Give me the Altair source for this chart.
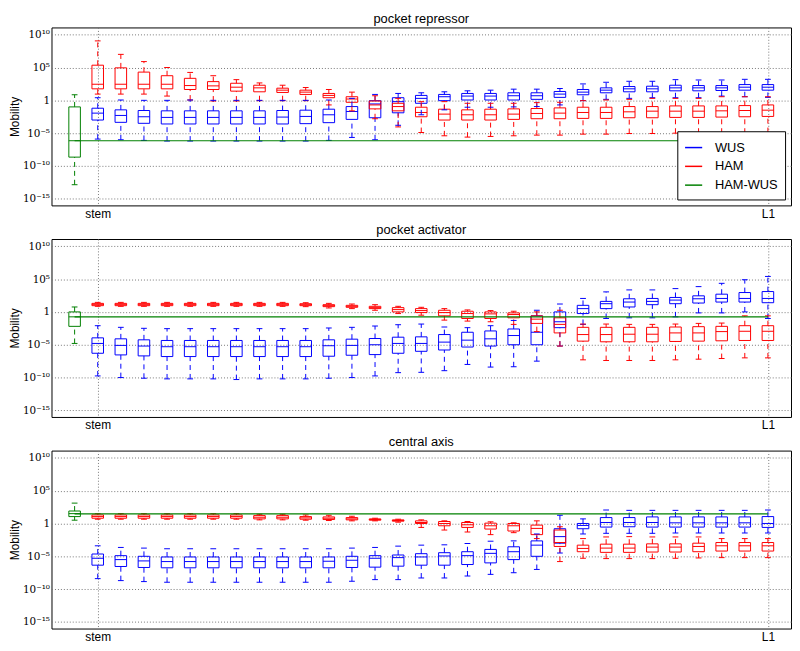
import altair as alt
import pandas as pd

# ---------------- data (log10 of Mobility) : [low, q1, median, q3, high] ----------------
SERIES = ["WUS", "HAM", "HAM-WUS"]
COLORS = ["#0000ff", "#ff0000", "#008000"]
PANELS = ["pocket repressor", "pocket activator", "central axis"]
POSITIONS = list(range(30))
GREEN_POS = -1
LINE_END = 29
TICK_POS = [0, 29]
TICK_TEXT = ["stem", "L1"]

PR_WUS = [
    [-5.9, -3.0, -1.95, -1.2, 0.4], [-6.0, -3.35, -2.3, -1.45, 0.05], [-6.1, -3.5, -2.5, -1.55, 0.0],
    [-6.2, -3.6, -2.6, -1.6, 0.0], [-6.2, -3.6, -2.6, -1.6, 0.05], [-6.2, -3.6, -2.6, -1.6, 0.0],
    [-6.2, -3.6, -2.6, -1.6, 0.0], [-6.2, -3.6, -2.6, -1.6, 0.0], [-6.2, -3.6, -2.55, -1.55, 0.0],
    [-6.2, -3.55, -2.45, -1.5, 0.0], [-6.1, -3.4, -2.2, -1.35, 0.05], [-5.65, -2.9, -1.7, -0.95, 0.3],
    [-6.0, -2.65, -0.55, -0.05, 0.9], [-3.8, -1.9, -0.2, 0.4, 1.05], [-2.2, -0.45, 0.3, 0.75, 1.15],
    [-1.45, -0.05, 0.55, 0.9, 1.3], [-1.05, 0.05, 0.65, 1.05, 1.45], [-1.05, 0.05, 0.65, 1.05, 1.55],
    [-1.0, 0.05, 0.7, 1.15, 1.7], [-0.95, 0.15, 0.7, 1.15, 1.7], [-0.7, 0.45, 0.95, 1.35, 1.8],
    [-0.05, 0.85, 1.25, 1.65, 2.5], [0.15, 1.15, 1.55, 1.9, 2.75], [0.3, 1.3, 1.75, 2.1, 2.9],
    [0.4, 1.3, 1.75, 2.15, 2.9], [0.4, 1.45, 1.9, 2.3, 3.15], [0.4, 1.45, 1.9, 2.25, 3.1],
    [0.65, 1.5, 1.9, 2.25, 3.1], [0.55, 1.55, 2.0, 2.4, 3.2], [0.45, 1.55, 2.0, 2.4, 3.2],
]
PR_HAM = [
    [0.95, 1.75, 2.45, 5.35, 9.05], [0.95, 1.75, 2.45, 4.95, 7.0], [0.95, 1.75, 2.45, 4.3, 5.9],
    [0.65, 1.75, 2.45, 3.75, 5.0], [0.05, 1.65, 2.25, 3.35, 4.25], [-0.1, 1.65, 2.2, 2.85, 3.75],
    [-0.1, 1.4, 2.0, 2.6, 3.15], [-0.05, 1.3, 1.9, 2.3, 2.65], [-0.05, 1.2, 1.55, 1.85, 2.3],
    [-0.05, 0.9, 1.25, 1.55, 1.95], [-0.7, 0.4, 0.75, 1.05, 1.65], [-1.6, -0.3, 0.2, 0.55, 1.25],
    [-2.8, -1.3, -0.7, -0.1, 0.7], [-4.05, -1.6, -0.95, -0.45, 0.3], [-4.9, -2.5, -1.85, -1.05, -0.2],
    [-5.4, -3.0, -2.1, -1.35, -0.2], [-5.6, -3.0, -2.2, -1.45, -0.45], [-5.5, -3.0, -2.2, -1.35, -0.45],
    [-5.4, -2.9, -2.1, -1.3, -0.45], [-5.3, -2.8, -2.0, -1.25, -0.35], [-5.3, -2.8, -1.95, -1.15, -0.3],
    [-5.15, -2.75, -1.85, -1.05, -0.05], [-5.15, -2.75, -1.85, -1.05, 0.05], [-5.05, -2.65, -1.75, -0.95, 0.15],
    [-5.05, -2.65, -1.65, -0.95, 0.3], [-5.0, -2.6, -1.65, -0.85, 0.3], [-5.0, -2.6, -1.65, -0.85, 0.3],
    [-5.0, -2.55, -1.6, -0.85, 0.55], [-5.0, -2.5, -1.55, -0.8, 0.55], [-4.9, -2.45, -1.5, -0.7, 0.55],
]
PR_GREEN = [-12.85, -8.65, -6.15, -1.0, 0.85]
PR_LINE = -6.15

PA_WUS = [
    [-9.75, -6.3, -4.8, -3.95, -2.1], [-10.0, -6.55, -5.1, -4.1, -2.35], [-10.1, -6.7, -5.2, -4.25, -2.5],
    [-10.2, -6.8, -5.3, -4.35, -2.55], [-10.2, -6.8, -5.3, -4.35, -2.55], [-10.2, -6.8, -5.3, -4.35, -2.55],
    [-10.3, -6.8, -5.3, -4.35, -2.55], [-10.2, -6.8, -5.3, -4.35, -2.55], [-10.2, -6.8, -5.3, -4.35, -2.55],
    [-10.2, -6.8, -5.3, -4.35, -2.55], [-10.1, -6.75, -5.15, -4.25, -2.45], [-10.0, -6.6, -5.1, -4.15, -2.35],
    [-9.75, -6.5, -5.0, -4.05, -2.15], [-9.25, -6.3, -4.8, -3.85, -1.95], [-9.2, -6.0, -4.8, -3.8, -1.85],
    [-8.95, -5.8, -4.6, -3.45, -2.3], [-8.0, -5.35, -4.3, -3.1, -2.4], [-8.4, -5.2, -4.1, -2.9, -2.1],
    [-8.35, -5.0, -3.6, -2.6, -1.3], [-7.5, -5.0, -3.1, -0.6, 0.25], [-5.2, -2.4, -1.5, 0.0, 1.2],
    [-1.9, -0.25, 0.5, 1.0, 2.05], [-1.0, 0.5, 1.25, 1.6, 3.05], [-0.9, 0.75, 1.5, 2.0, 3.35],
    [-0.9, 1.1, 1.6, 2.05, 3.35], [-0.75, 1.25, 1.8, 2.2, 3.55], [-0.15, 1.35, 2.0, 2.45, 3.85],
    [-0.15, 1.5, 2.05, 2.7, 4.35], [0.0, 1.5, 2.05, 2.95, 4.9], [-1.0, 1.4, 2.05, 3.1, 5.4],
]
PA_HAM = [
    [0.85, 0.95, 1.15, 1.3, 1.45], [0.85, 0.95, 1.15, 1.3, 1.45], [0.85, 0.95, 1.15, 1.3, 1.45],
    [0.85, 0.95, 1.15, 1.3, 1.45], [0.85, 0.95, 1.15, 1.3, 1.45], [0.85, 0.95, 1.15, 1.3, 1.45],
    [0.85, 0.95, 1.15, 1.3, 1.45], [0.85, 0.95, 1.15, 1.3, 1.45], [0.85, 0.95, 1.15, 1.3, 1.45],
    [0.8, 0.95, 1.1, 1.25, 1.4], [0.6, 0.8, 0.95, 1.1, 1.3], [0.5, 0.7, 0.85, 1.0, 1.2],
    [0.25, 0.5, 0.65, 0.85, 1.1], [-0.25, 0.0, 0.35, 0.65, 0.85], [-0.5, -0.1, 0.2, 0.5, 0.7],
    [-1.25, -0.6, -0.1, 0.25, 0.5], [-1.4, -1.0, -0.25, 0.1, 0.3], [-1.5, -1.0, -0.3, 0.0, 0.2],
    [-1.9, -0.9, -0.4, -0.15, 0.1], [-3.0, -1.75, -1.1, -0.6, 0.0], [-5.2, -3.2, -1.9, -0.9, 0.25],
    [-7.3, -4.45, -3.45, -2.35, -1.85], [-7.4, -4.55, -3.45, -2.35, -1.85], [-7.4, -4.55, -3.4, -2.35, -1.9],
    [-7.4, -4.55, -3.4, -2.35, -1.9], [-7.3, -4.5, -3.2, -2.3, -1.85], [-7.2, -4.45, -3.2, -2.25, -1.75],
    [-7.1, -4.4, -3.0, -2.2, -1.7], [-7.0, -4.35, -2.95, -2.1, -0.6], [-7.0, -4.35, -2.95, -2.1, -0.6],
]
PA_GREEN = [-4.8, -2.2, -0.75, 0.0, 0.75]
PA_LINE = -0.75

CA_WUS = [
    [-8.4, -6.35, -5.3, -4.65, -3.4], [-8.7, -6.55, -5.5, -4.9, -3.65], [-8.85, -6.7, -5.7, -5.0, -3.75],
    [-8.95, -6.75, -5.8, -5.1, -3.85], [-8.95, -6.75, -5.8, -5.1, -3.85], [-8.95, -6.75, -5.8, -5.1, -3.85],
    [-8.95, -6.75, -5.8, -5.1, -3.85], [-8.95, -6.75, -5.8, -5.1, -3.85], [-8.95, -6.75, -5.8, -5.1, -3.85],
    [-8.95, -6.75, -5.8, -5.1, -3.85], [-8.95, -6.75, -5.75, -5.1, -3.85], [-8.8, -6.7, -5.6, -5.0, -3.75],
    [-8.55, -6.65, -5.3, -4.9, -3.65], [-8.55, -6.5, -5.2, -4.8, -3.45], [-8.3, -6.35, -5.1, -4.6, -3.3],
    [-8.3, -6.35, -4.95, -4.45, -3.25], [-8.0, -6.25, -4.9, -4.3, -3.05], [-7.75, -6.0, -4.55, -3.95, -2.7],
    [-7.5, -5.5, -4.3, -3.55, -2.65], [-7.0, -5.0, -3.3, -2.65, -1.6], [-4.5, -3.0, -2.0, -0.8, 1.25],
    [-1.6, -0.8, -0.3, 0.0, 0.7], [-1.5, -0.55, 0.15, 0.9, 2.05], [-1.5, -0.5, 0.15, 0.9, 2.0],
    [-1.5, -0.55, 0.15, 1.0, 2.0], [-1.45, -0.55, 0.1, 1.0, 2.0], [-1.45, -0.55, 0.1, 1.0, 2.0],
    [-1.45, -0.55, 0.1, 1.0, 2.0], [-1.45, -0.55, 0.1, 1.0, 2.0], [-1.45, -0.6, 0.0, 1.05, 2.05],
]
CA_HAM = [
    [0.65, 0.8, 1.05, 1.3, 1.5], [0.65, 0.8, 1.05, 1.3, 1.5], [0.65, 0.8, 1.05, 1.3, 1.5],
    [0.65, 0.8, 1.05, 1.3, 1.5], [0.65, 0.8, 1.05, 1.3, 1.5], [0.65, 0.8, 1.05, 1.3, 1.5],
    [0.65, 0.8, 1.05, 1.3, 1.5], [0.55, 0.7, 0.95, 1.2, 1.4], [0.55, 0.7, 0.95, 1.2, 1.4],
    [0.5, 0.65, 0.85, 1.05, 1.3], [0.45, 0.6, 0.8, 1.0, 1.25], [0.4, 0.55, 0.7, 0.9, 1.1],
    [0.4, 0.5, 0.6, 0.7, 0.8], [0.2, 0.35, 0.45, 0.55, 0.65], [-0.6, 0.0, 0.15, 0.4, 0.55],
    [-1.0, -0.35, 0.0, 0.3, 0.4], [-1.3, -0.6, -0.2, 0.15, 0.3], [-1.7, -0.85, -0.35, 0.05, 0.25],
    [-1.4, -1.15, -0.35, 0.0, 0.1], [-2.3, -1.7, -0.75, -0.25, 0.4], [-5.8, -3.5, -2.9, -1.0, -0.5],
    [-5.3, -4.3, -3.8, -3.3, -2.3], [-5.35, -4.4, -3.75, -3.15, -2.05], [-5.35, -4.4, -3.75, -3.15, -2.0],
    [-5.35, -4.35, -3.6, -3.1, -2.05], [-5.3, -4.35, -3.6, -3.1, -2.05], [-5.25, -4.3, -3.5, -3.0, -2.05],
    [-5.2, -4.2, -3.4, -2.9, -2.3], [-5.2, -4.2, -3.4, -2.9, -2.3], [-5.2, -4.2, -3.4, -2.9, -2.3],
]
CA_GREEN = [0.5, 1.05, 1.5, 1.9, 3.1]
CA_LINE = 1.45

PANEL_DATA = [
    (PR_WUS, PR_HAM, PR_GREEN, PR_LINE),
    (PA_WUS, PA_HAM, PA_GREEN, PA_LINE),
    (CA_WUS, CA_HAM, CA_GREEN, CA_LINE),
]

# ---------------- build tables ----------------
def box_rows(stats, series, pos):
    lo, q1, md, q3, hi = stats
    return dict(series=series, pos=pos, lo=10 ** lo, q1=10 ** q1, med=10 ** md,
                q3=10 ** q3, hi=10 ** hi)

YTICKS = [1e-15, 1e-10, 1e-5, 1, 1e5, 1e10]
ylab = ("datum.value >= 1e9 ? '10¹⁰' : datum.value >= 1e4 ? '10⁵' : "
        "datum.value >= 0.1 ? '1' : datum.value >= 1e-6 ? '10⁻⁵' : "
        "datum.value >= 1e-11 ? '10⁻¹⁰' : '10⁻¹⁵'")
xlab = "datum.value == %d ? '%s' : '%s'" % (TICK_POS[0], TICK_TEXT[0], TICK_TEXT[1])

xs = alt.Scale(domain=[-2, 30], nice=False, zero=False)
ys = alt.Scale(type="log", domain=[1e-16, 10 ** 11.1], nice=False)

grid_kw = dict(grid=True, gridDash=[1, 2], gridColor="#777777", gridWidth=1,
               ticks=False, domain=False)
xaxis = alt.Axis(values=TICK_POS, labelExpr=xlab, title=None, labelFont="Liberation Sans",
                 labelFontSize=12, labelColor="black", labelPadding=3, **grid_kw)
yaxis = alt.Axis(values=YTICKS, labelExpr=ylab, title="Mobility", titleFont="Liberation Sans",
                 titleFontSize=12, titleFontWeight="normal", titlePadding=1,
                 labelFont="DejaVu Serif", labelFontSize=10.5, labelColor="black",
                 labelPadding=2, **grid_kw)

panels = []
for k, (title, (wus, ham, green, line)) in enumerate(zip(PANELS, PANEL_DATA)):
    rows = [box_rows(s, "WUS", p) for s, p in zip(wus, POSITIONS)]
    rows += [box_rows(s, "HAM", p) for s, p in zip(ham, POSITIONS)]
    rows.append(box_rows(green, "HAM-WUS", GREEN_POS))
    df = pd.DataFrame(rows)
    df_line = pd.DataFrame([dict(series="HAM-WUS", xa=GREEN_POS, xb=LINE_END, y=10 ** line)])

    if k == 0:
        legend = alt.Legend(title=None, orient="bottom-right", offset=6, symbolType="stroke",
                            symbolSize=300, symbolStrokeWidth=1.5, labelFont="Liberation Sans",
                            labelFontSize=13, labelColor="black", labelOffset=12,
                            strokeColor="black", fillColor="white", padding=7,
                            rowPadding=2, cornerRadius=0)
    else:
        legend = None
    color = alt.Color("series:N", scale=alt.Scale(domain=SERIES, range=COLORS), legend=legend)

    base = alt.Chart(df).transform_calculate(
        b0="datum.pos - 0.25", b1="datum.pos + 0.25",
        c0="datum.pos - 0.125", c1="datum.pos + 0.125")

    boxes = base.mark_rect(filled=False, strokeWidth=1).encode(
        x=alt.X("b0:Q", scale=xs, axis=xaxis), x2="b1:Q",
        y=alt.Y("q1:Q", scale=ys, axis=yaxis), y2="q3:Q", color=color)
    med = base.mark_rule(strokeWidth=1).encode(
        x=alt.X("b0:Q", scale=xs), x2="b1:Q", y=alt.Y("med:Q", scale=ys), color=color)
    wlo = base.mark_rule(strokeWidth=1, strokeDash=[5, 4]).encode(
        x=alt.X("pos:Q", scale=xs), y=alt.Y("lo:Q", scale=ys), y2="q1:Q", color=color)
    whi = base.mark_rule(strokeWidth=1, strokeDash=[5, 4]).encode(
        x=alt.X("pos:Q", scale=xs), y=alt.Y("q3:Q", scale=ys), y2="hi:Q", color=color)
    clo = base.mark_rule(strokeWidth=1).encode(
        x=alt.X("c0:Q", scale=xs), x2="c1:Q", y=alt.Y("lo:Q", scale=ys), color=color)
    chi = base.mark_rule(strokeWidth=1).encode(
        x=alt.X("c0:Q", scale=xs), x2="c1:Q", y=alt.Y("hi:Q", scale=ys), color=color)
    gline = alt.Chart(df_line).mark_rule(strokeWidth=1.2).encode(
        x=alt.X("xa:Q", scale=xs), x2="xb:Q", y=alt.Y("y:Q", scale=ys), color=color)

    panel = alt.layer(boxes, med, wlo, whi, clo, chi, gline).properties(
        width=748, height=180,
        title=alt.TitleParams(title, fontSize=13, font="Liberation Sans",
                              fontWeight="normal", offset=2, color="black"))
    panels.append(panel)

chart = alt.vconcat(*panels, spacing=3).resolve_scale(color="independent").properties(
    padding={"left": 0, "top": 0, "right": 0, "bottom": 0}
).configure_view(stroke="black", strokeWidth=1)

chart.save("out.html", embed_options={"renderer": "svg", "actions": False})
